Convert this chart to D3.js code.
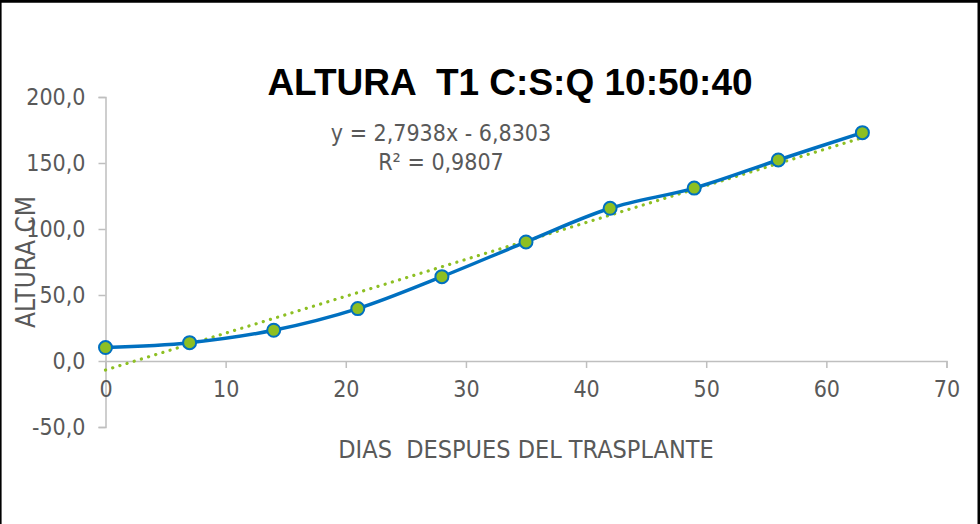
<!DOCTYPE html>
<html>
<head>
<meta charset="utf-8">
<script src="https://cdn.jsdelivr.net/npm/d3@7"></script>
<style>
  html, body { margin: 0; padding: 0; background: #fff; }
  svg { display: block; }
  text { white-space: pre; }
</style>
</head>
<body>
<svg id="chart" width="980" height="524"></svg>
<script>
// ---- data ----
const days = [0, 7, 14, 21, 28, 35, 42, 49, 56, 63];
const altura = [10.2, 13.9, 23.3, 39.7, 63.9, 90.2, 115.7, 131.0, 152.3, 173.0];
const xTicks = [0, 10, 20, 30, 40, 50, 60, 70];
const yTicks = [-50, 0, 50, 100, 150, 200];
const trendSlope = 2.7938;
const trendIntercept = -6.8303;
const titleText = "ALTURA  T1 C:S:Q 10:50:40";
const xTitle = "DIAS  DESPUES DEL TRASPLANTE";
const yTitle = "ALTURA CM";
const eqLine1 = "y = 2,7938x - 6,8303";
const eqLine2 = "R\u00B2 = 0,9807";

// ---- layout ----
const W = 980, H = 524;
const svg = d3.select("#chart");
const font = "'DejaVu Sans Condensed', 'DejaVu Sans', sans-serif";
const grey = "#595959";
const axisCol = "#bfbfbf";
const blue = "#0070C0";
const green = "#8DBF23";

const x = d3.scaleLinear().domain([0, 70]).range([105.5, 946.5]);
const y = d3.scaleLinear().domain([-50, 200]).range([427, 97]);
const fmt = v => d3.format(".1f")(v).replace(".", ",").replace("−", "-");

svg.append("rect").attr("x", 0).attr("y", 0).attr("width", W).attr("height", H).attr("fill", "#fff");

// border (top, left, right)
svg.append("line").attr("x1", 0).attr("x2", W).attr("y1", 1.4).attr("y2", 1.4).attr("stroke", "#000").attr("stroke-width", 2.8);
svg.append("line").attr("x1", 0.8).attr("x2", 0.8).attr("y1", 0).attr("y2", H).attr("stroke", "#000").attr("stroke-width", 1.6);
svg.append("line").attr("x1", 978.8).attr("x2", 978.8).attr("y1", 0).attr("y2", H).attr("stroke", "#000").attr("stroke-width", 2.6);

// y axis
const yAxis = svg.append("g").attr("transform", `translate(${x(0)},0)`)
  .call(d3.axisLeft(y).tickValues(yTicks).tickSize(7).tickPadding(13).tickFormat(fmt));
yAxis.select(".domain").attr("stroke", axisCol).attr("stroke-width", 1.5);
yAxis.selectAll(".tick line").attr("stroke", axisCol).attr("stroke-width", 1.5);
yAxis.selectAll(".tick text").attr("fill", grey).style("font-family", font).style("font-size", "23px");

// x axis at y=0
const xAxis = svg.append("g").attr("transform", `translate(0,${y(0)})`)
  .call(d3.axisBottom(x).tickValues(xTicks).tickSize(7).tickPadding(13).tickFormat(d3.format("d")));
xAxis.select(".domain").attr("stroke", axisCol).attr("stroke-width", 1.5);
xAxis.selectAll(".tick line").attr("stroke", axisCol).attr("stroke-width", 1.5);
xAxis.selectAll(".tick text").attr("fill", grey).style("font-family", font).style("font-size", "23px");

// trendline
const trendDays = [days[0], days[days.length - 1]];
svg.append("path")
  .datum(trendDays)
  .attr("d", d3.line().x(d => x(d)).y(d => y(trendSlope * d + trendIntercept)))
  .attr("fill", "none").attr("stroke", green).attr("stroke-width", 3.2)
  .attr("stroke-linecap", "round").attr("stroke-dasharray", "0.1 7.4");

// smoothed series line
const pts = days.map((d, i) => [d, altura[i]]);
svg.append("path")
  .datum(pts)
  .attr("d", d3.line().x(d => x(d[0])).y(d => y(d[1])).curve(d3.curveCatmullRom.alpha(0.5)))
  .attr("fill", "none").attr("stroke", blue).attr("stroke-width", 3.5);

// markers
svg.selectAll("circle.pt").data(pts).enter().append("circle")
  .attr("class", "pt")
  .attr("cx", d => x(d[0])).attr("cy", d => y(d[1])).attr("r", 6.5)
  .attr("fill", green).attr("stroke", blue).attr("stroke-width", 2);

// title
svg.append("text").attr("x", 510).attr("y", 95).attr("text-anchor", "middle")
  .style("font-family", "'Liberation Sans', Arial, sans-serif").style("font-weight", "bold")
  .style("font-size", "37px").attr("fill", "#000").text(titleText);

// equation
svg.append("text").attr("x", 441).attr("y", 141).attr("text-anchor", "middle")
  .style("font-family", font).style("font-size", "23px").attr("fill", grey).text(eqLine1);
svg.append("text").attr("x", 441).attr("y", 170).attr("text-anchor", "middle")
  .style("font-family", font).style("font-size", "23px").attr("fill", grey).text(eqLine2);

// axis titles
svg.append("text").attr("x", 526).attr("y", 458).attr("text-anchor", "middle")
  .style("font-family", font).style("font-size", "25px").attr("fill", grey).text(xTitle);
svg.append("text").attr("transform", "translate(35,262) rotate(-90)").attr("text-anchor", "middle")
  .style("font-family", font).style("font-size", "26px").attr("fill", grey).text(yTitle);
</script>
</body>
</html>
